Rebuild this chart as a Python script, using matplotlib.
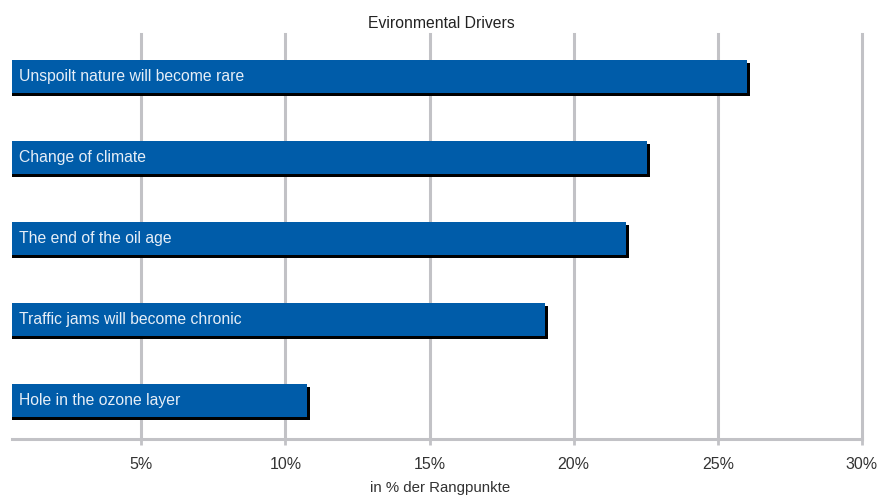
import numpy as np
import matplotlib
matplotlib.use("Agg")
import matplotlib.pyplot as plt
import matplotlib.transforms as mtransforms

# data
categories = ["Unspoilt nature will become rare", "Change of climate",
              "The end of the oil age", "Traffic jams will become chronic",
              "Hole in the ozone layer"]
values = [26.0, 22.55, 21.8, 19.0, 10.75]
tick_values = [5, 10, 15, 20, 25, 30]
tick_labels = ["5%", "10%", "15%", "20%", "25%", "30%"]

plt.rcParams['font.family'] = ['Liberation Sans', 'DejaVu Sans']

fig = plt.figure(figsize=(8.9, 4.98), dpi=100)
ax = fig.add_axes([12 / 890, 59 / 498, 850 / 890, 405 / 498])

grid_col = "#c2c2c6"
bar_col = "#005ca9"

y = np.arange(len(categories))
h = 0.41

# shadow, shifted 3px right / 3px down
shadow_tr = ax.transData + mtransforms.ScaledTranslation(3 / 100, -3 / 100, fig.dpi_scale_trans)
ax.barh(y + 0.02, values, height=h, color="black", transform=shadow_tr, zorder=2)
ax.barh(y + 0.02, values, height=h, color=bar_col, zorder=3)

for yi, name in zip(y, categories):
    ax.text(0.75, yi + 0.02, name, color="#e6eef7", fontsize=11.3, va="center", ha="left", zorder=4)

ax.set_xlim(0.52, 30)
ax.set_ylim(len(categories) - 0.5, -0.5)
ax.set_xticks(tick_values)
ax.set_xticklabels(tick_labels, fontsize=11.5, color="#333333")
ax.set_yticks([])
ax.xaxis.grid(True, color=grid_col, linewidth=2.2)
for gl in ax.get_xgridlines():
    gl.set_clip_on(False)
ax.set_axisbelow(True)
ax.tick_params(axis="x", length=4, width=2, color=grid_col, pad=9)

for s in ["top", "left", "right"]:
    ax.spines[s].set_visible(False)
ax.spines["bottom"].set_color(grid_col)
ax.spines["bottom"].set_linewidth(2.2)

fig.text(441 / 890, 1 - 24 / 498, "Evironmental Drivers", ha="center", va="center", fontsize=11.3, color="#222222")
fig.text(440 / 890, 1 - 488 / 498, "in % der Rangpunkte", ha="center", va="center", fontsize=10.8, color="#333333")

fig.savefig("out.png", dpi=100)
